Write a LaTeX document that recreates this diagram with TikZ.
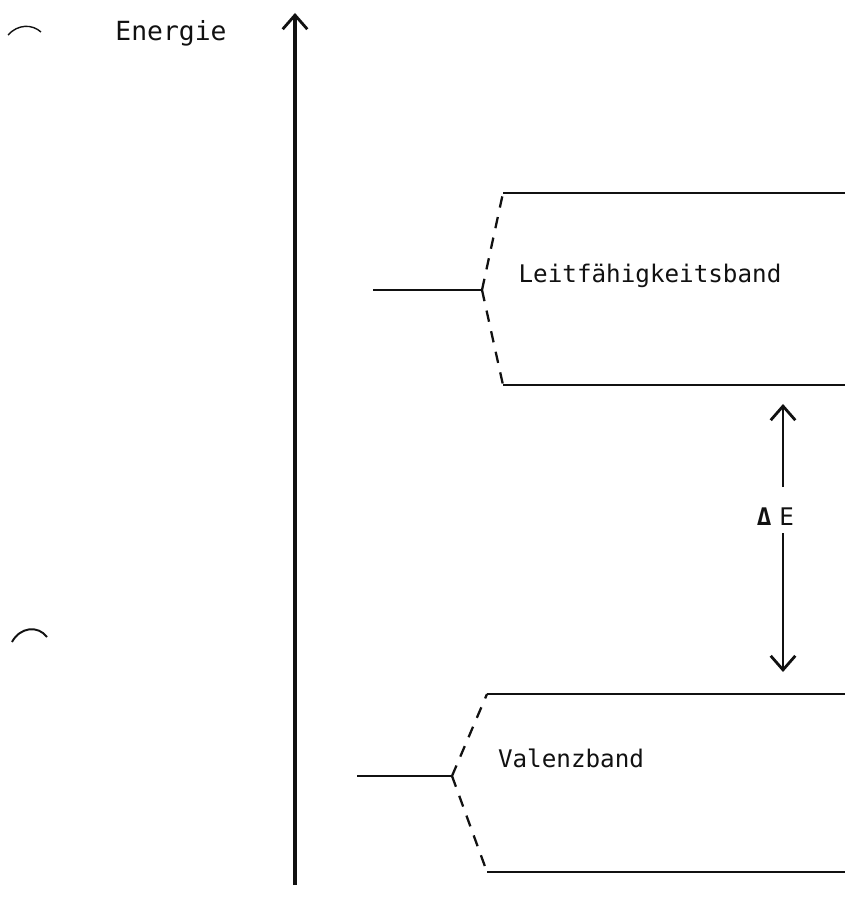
\documentclass[tikz,border=0pt]{standalone}
\usepackage{fontspec}
\setmonofont{DejaVu Sans Mono}
\usetikzlibrary{arrows.meta}
\definecolor{plotink}{HTML}{111111}

\tikzset{
  bandline/.style={draw=plotink, line width=1.3pt},
  splitline/.style={draw=plotink, line width=1.3pt, dash pattern=on 6.5pt off 5.5pt},
  chevron/.style={-{Straight Barb[length=8pt,width=14pt,line width=1.6pt]}},
  label/.style={text=plotink, inner sep=0pt, anchor=base, font=\ttfamily\fontsize{13.8}{16}\selectfont}
}

\begin{document}
\begin{tikzpicture}[x=0.02cm, y=-0.02cm]
  \useasboundingbox (0,0) rectangle (855,901);

  % Energieachse
  \coordinate (axbot) at (295,885);
  \coordinate (axtop) at (295,13);
  \draw[draw=plotink, line width=1.8pt, chevron] (axbot) -- (axtop);
  \node[label, font=\ttfamily\fontsize{15}{17}\selectfont] (energie) at (171,41) {Energie};

  % Leitfaehigkeitsband
  \coordinate (lbtl) at (503,193);
  \coordinate (lbtr) at (845,193);
  \coordinate (lbbl) at (503,385);
  \coordinate (lbbr) at (845,385);
  \coordinate (lbl0) at (373,290);
  \coordinate (lbl1) at (482,290);
  \draw[bandline] (lbtl) -- (lbtr);
  \draw[bandline] (lbbl) -- (lbbr);
  \draw[bandline] (lbl0) -- (lbl1);
  \draw[splitline] (lbl1) -- (lbtl);
  \draw[splitline] (lbl1) -- (lbbl);
  \node[label] (leit) at (650,283) {Leitfähigkeitsband};

  % Valenzband
  \coordinate (vbtl) at (487,694);
  \coordinate (vbtr) at (845,694);
  \coordinate (vbbl) at (487,872);
  \coordinate (vbbr) at (845,872);
  \coordinate (vbl0) at (357,776);
  \coordinate (vbl1) at (452,776);
  \draw[bandline] (vbtl) -- (vbtr);
  \draw[bandline] (vbbl) -- (vbbr);
  \draw[bandline] (vbl0) -- (vbl1);
  \draw[splitline] (vbl1) -- (vbtl);
  \draw[splitline] (vbl1) -- (vbbl);
  \node[label] (valenz) at (571,767) {Valenzband};

  % Bandluecke
  \node[label, anchor=base east, xshift=6.5pt] (dE) at (783,525) {\textbf{Δ}\,\,E};
  \coordinate (gaptop) at (783,404);
  \coordinate (gapbot) at (783,672);
  \draw[draw=plotink, line width=1.6pt, chevron] (783,487) -- (gaptop);
  \draw[draw=plotink, line width=1.6pt, chevron] (783,533) -- (gapbot);

  % Lochungen
  \draw[draw=plotink, line width=0.8pt] (8,35) .. controls (18,24) and (32,24) .. (41,32);
  \draw[draw=plotink, line width=1.1pt] (12,642) .. controls (20,627) and (38,625) .. (47,637);
\end{tikzpicture}
\end{document}
